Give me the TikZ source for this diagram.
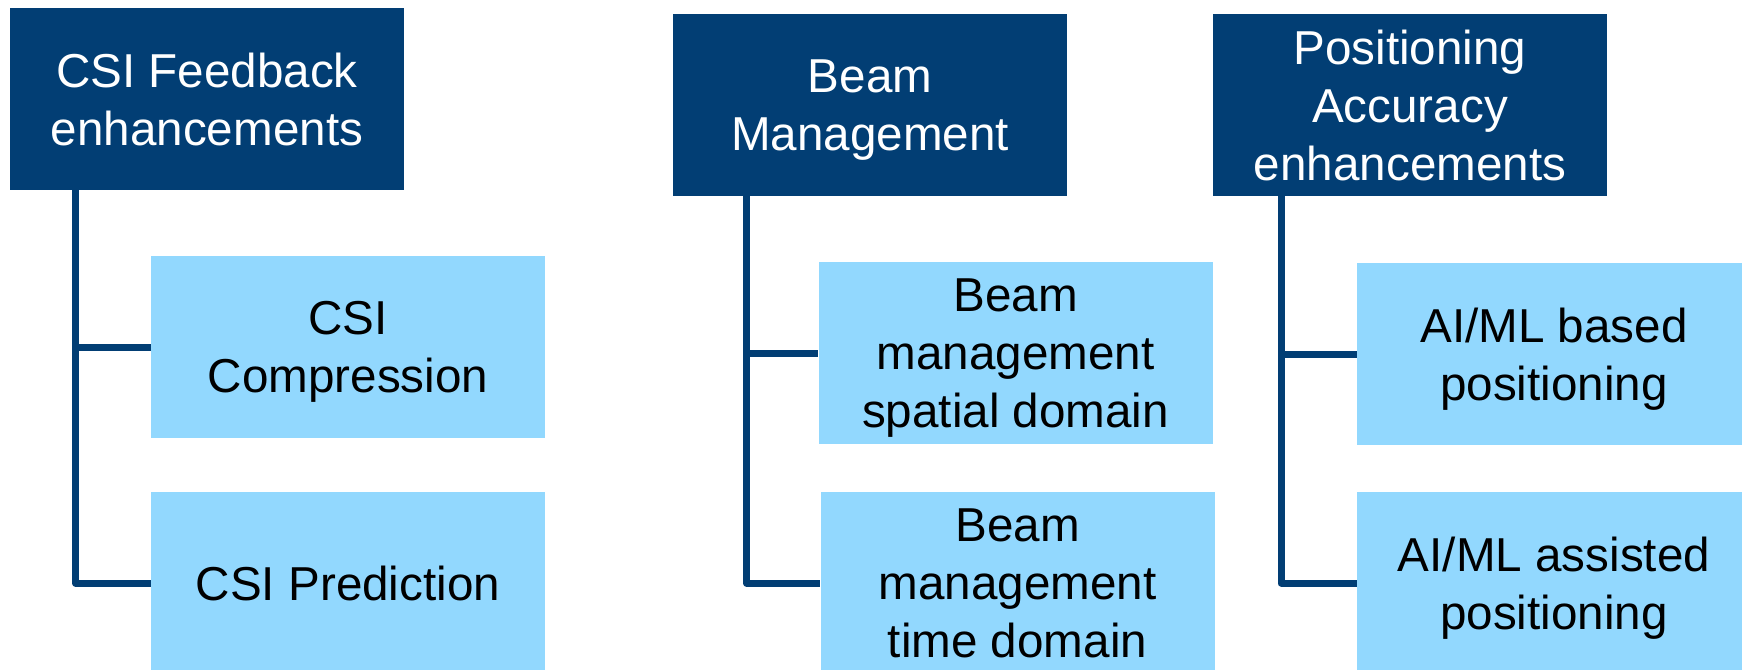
\documentclass[tikz,border=0pt]{standalone}
\usepackage{fontspec}
\setmainfont{Liberation Sans}
\definecolor{navy}{RGB}{2,62,116}
\definecolor{sky}{RGB}{146,216,254}
\begin{document}
\begin{tikzpicture}[x=0.5pt,y=-0.5pt,
  boxtext/.style={inner sep=0pt, align=center, text depth=0pt, font=\fontsize{23.8}{29}\selectfont},
  head/.style={boxtext, fill=navy, text=white, minimum width=197pt, minimum height=91pt},
  leaf/.style={boxtext, fill=sky, text=black, minimum width=197pt, minimum height=91pt},
  conn/.style={draw=navy, line width=3.5pt, line join=round}]
\useasboundingbox (0,0) rectangle (1742,670);
\clip (0,0) rectangle (1742,670);

% column headings
\node[head] (d1) at (207,99)   {CSI Feedback\\enhancements};
\node[head] (d2) at (870,105)  {Beam\\Management};
\node[head] (d3) at (1410,105) {Positioning\\Accuracy\\enhancements};

% sub-topics
\node[leaf] (l1) at (348,347)    {CSI\\Compression};
\node[leaf] (l2) at (348,583)    {CSI Prediction};
\node[leaf] (l3) at (1015.5,353) {Beam\\management\\spatial domain};
\node[leaf] (l4) at (1017.5,583) {Beam\\management\\time domain};
\node[leaf] (l5) at (1554,354)   {AI/ML based\\positioning};
\node[leaf] (l6) at (1554,583)   {AI/ML assisted\\positioning};

% x positions of the trunk lines
\coordinate (v1) at (75.5,0);
\coordinate (v2) at (746.5,0);
\coordinate (v3) at (1281,0);

% tree connectors
\draw[conn] (d1.south -| v1) |- (l1.west);
\draw[conn] (d1.south -| v1) |- (l2.west);
\draw[conn] (d2.south -| v2) |- (l3.west);
\draw[conn] (d2.south -| v2) |- (l4.west);
\draw[conn] (d3.south -| v3) |- (l5.west);
\draw[conn] (d3.south -| v3) |- (l6.west);
\end{tikzpicture}
\end{document}
